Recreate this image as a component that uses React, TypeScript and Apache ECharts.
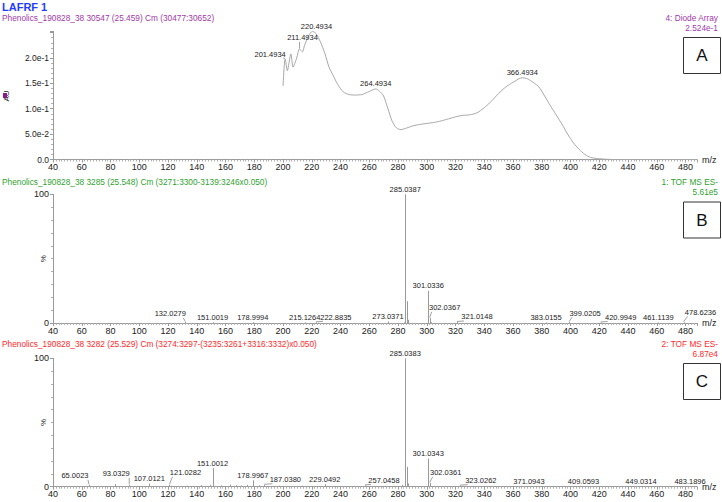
import React, { useEffect, useRef } from "react";
import * as echarts from "echarts";

// ---------- data ----------
const X_MIN = 40;
const X_MAX = 488;
const X_STEP = 20;

// Panel A: diode array UV spectrum (nm vs AU)
const uvWavelength = [
  200, 201, 201.4934, 203, 205.5, 207, 209.5, 211.4934, 213.5, 215, 218, 220.4934, 223, 226, 229, 232,
  235, 238, 242, 246, 250, 255, 260, 264.4934, 267, 270, 273, 276, 279, 282, 286, 290, 295, 300, 305,
  310, 315, 320, 325, 330, 335, 340, 345, 350, 355, 360, 364, 366.4934, 370, 374, 378, 382, 386, 390,
  394, 398, 402, 406, 410, 414, 418, 422, 430, 488,
];
const uvAbsorbance = [
  0.145, 0.19, 0.198, 0.175, 0.208, 0.182, 0.2, 0.218, 0.212, 0.225, 0.245, 0.2524, 0.248, 0.232, 0.21, 0.182,
  0.165, 0.148, 0.133, 0.128, 0.127, 0.128, 0.134, 0.139, 0.135, 0.125, 0.1, 0.075, 0.062, 0.059, 0.062, 0.066,
  0.069, 0.071, 0.073, 0.076, 0.08, 0.084, 0.087, 0.088, 0.092, 0.102, 0.115, 0.13, 0.143, 0.152, 0.159, 0.161,
  0.159, 0.152, 0.143, 0.125, 0.106, 0.088, 0.07, 0.05, 0.033, 0.02, 0.01, 0.004, 0.002, 0.001, 0, 0,
];
const uvLabelled = [201.4934, 211.4934, 220.4934, 264.4934, 366.4934];
const uvMax = 0.2524;
const uvTicks = [0, 0.05, 0.1, 0.15, 0.2];

// Panel B: TOF MS ES- (m/z vs %)
const bMz = [
  132.0279, 151.0019, 178.9994, 215.1264, 222.8835, 273.0371, 284.03, 285.0387, 286.042, 287.045,
  301.0336, 302.0367, 303.04, 321.0148, 383.0155, 399.0205, 420.9949, 461.1139, 478.6236,
];
const bIntensity = [0.8, 0.6, 0.6, 0.5, 0.5, 1.2, 0.5, 100, 17, 2.5, 25, 4, 0.6, 0.8, 0.4, 0.6, 0.4, 0.5, 0.5];
const bLabelled = [
  132.0279, 151.0019, 178.9994, 215.1264, 222.8835, 273.0371, 285.0387, 301.0336, 302.0367, 321.0148,
  383.0155, 399.0205, 420.9949, 461.1139, 478.6236,
];

// Panel C: TOF MS ES- (m/z vs %)
const cMz = [
  65.0023, 83.0, 93.0329, 107.0121, 121.0282, 133.0, 143.0, 149.0, 151.0012, 157.0, 163.0, 167.0, 171.0,
  175.0, 178.9967, 183.0, 187.038, 197.0, 213.0, 229.0492, 241.0, 257.0458, 269.0, 283.0, 285.0383,
  286.04, 287.04, 301.0343, 302.0361, 323.0262, 371.0943, 409.0593, 449.0314, 483.1896,
];
const cIntensity = [
  1.5, 2, 1.5, 2.5, 1.5, 0.8, 1.2, 1.5, 14.5, 1.0, 1.6, 1.2, 1.0, 1.4, 5, 1.0, 1.5, 0.8, 0.8, 2, 0.6, 1,
  0.6, 1.5, 100, 15.5, 2.5, 22, 3, 0.8, 0.5, 0.5, 0.5, 0.5,
];
const cLabelled = [
  65.0023, 93.0329, 107.0121, 121.0282, 151.0012, 178.9967, 187.038, 229.0492, 257.0458, 285.0383,
  301.0343, 302.0361, 323.0262, 371.0943, 409.0593, 449.0314, 483.1896,
];

// ---------- layout / style ----------
const FONT = "'Liberation Sans', Arial, sans-serif";
const LABEL_SHIFT: Record<string, [number, number]> = {
  "A:201.4934": [-15, 0],
  "A:211.4934": [3, -6],
  "A:220.4934": [4, 0],
  "B:132.0279": [-15, -3],
  "B:222.8835": [20, 0],
  "B:302.0367": [15, -5],
  "B:321.0148": [20, 0],
  "B:399.0205": [16, -4],
  "B:420.9949": [20, 0],
  "B:478.6236": [17, -5],
  "C:65.0023": [-14, -4],
  "C:93.0329": [-13, -6],
  "C:121.0282": [16, -7],
  "C:187.0380": [21, 0],
  "C:257.0458": [19, 0],
  "C:302.0361": [16, -5],
  "C:323.0262": [21, 0],
};

const zip = (a: number[], b: number[]) => a.map((v, i) => [v, b[i]]);

function labelSeries(panel: string, axisIdx: number, mzList: number[], allMz: number[], allVal: number[]) {
  const data = mzList.map((m) => [m, allVal[allMz.indexOf(m)]]);
  const texts = mzList.map((m) => m.toFixed(4));
  return {
    type: "custom",
    xAxisIndex: axisIdx,
    yAxisIndex: axisIdx,
    clip: false,
    silent: true,
    z: 5,
    data,
    renderItem: (params: any, api: any) => {
      const p = api.coord([api.value(0), api.value(1)]);
      const text = texts[params.dataIndex];
      const sh = LABEL_SHIFT[panel + ":" + text] || [0, 0];
      const ax = p[0] + sh[0];
      const ay = p[1] - 1 + sh[1];
      const children: any[] = [
        {
          type: "text",
          style: {
            x: ax,
            y: ay,
            text,
            fill: "#222",
            fontSize: 7.5,
            fontFamily: FONT,
            align: "center",
            textAlign: "center",
            verticalAlign: "bottom",
            textVerticalAlign: "bottom",
          },
        },
      ];
      if (Math.abs(sh[0]) > 6 || sh[1] < -3) {
        const sx = Math.max(ax - 13, Math.min(ax + 13, p[0]));
        children.push({
          type: "line",
          shape: { x1: sx, y1: ay, x2: p[0], y2: p[1] - 0.5 },
          style: { stroke: "#888", lineWidth: 0.8 },
        });
      }
      return { type: "group", children };
    },
  };
}

function stickSeries(axisIdx: number, mz: number[], vals: number[]) {
  return {
    type: "custom",
    xAxisIndex: axisIdx,
    yAxisIndex: axisIdx,
    silent: true,
    z: 3,
    data: zip(mz, vals),
    renderItem: (params: any, api: any) => {
      const top = api.coord([api.value(0), api.value(1)]);
      const base = api.coord([api.value(0), 0]);
      const x = Math.round(top[0]) + 0.5;
      return {
        type: "line",
        shape: { x1: x, y1: base[1], x2: x, y2: top[1] },
        style: { stroke: "#9a9a9a", lineWidth: 1 },
      };
    },
  };
}

function xAxis(i: number) {
  return {
    gridIndex: i,
    type: "value",
    min: X_MIN,
    max: X_MAX,
    interval: X_STEP,
    name: "m/z",
    nameLocation: "end",
    nameGap: 5,
    nameTextStyle: { fontSize: 9, color: "#222", fontFamily: FONT, verticalAlign: "middle" },
    axisLine: { onZero: false, lineStyle: { color: "#9a9a9a", width: 1 } },
    axisTick: { show: true, length: 3, lineStyle: { color: "#9a9a9a" } },
    minorTick: { show: true, splitNumber: 10, length: 2, lineStyle: { color: "#b0b0b0" } },
    axisLabel: { fontSize: 9, color: "#222", fontFamily: FONT, margin: 3, showMaxLabel: false },
    splitLine: { show: false },
    minorSplitLine: { show: false },
  };
}

function pctAxis(i: number) {
  return {
    gridIndex: i,
    type: "value",
    min: 0,
    max: 100,
    interval: 100,
    name: "%",
    nameLocation: "middle",
    nameRotate: 90,
    nameGap: 6,
    nameMoveOverlap: false,
    nameTextStyle: { fontSize: 8, color: "#222", fontFamily: FONT },
    axisLine: { show: true, lineStyle: { color: "#9a9a9a", width: 1 } },
    axisTick: { show: true, length: 3, lineStyle: { color: "#9a9a9a" } },
    minorTick: { show: true, splitNumber: 10, length: 2, lineStyle: { color: "#b0b0b0" } },
    axisLabel: { fontSize: 9, color: "#222", fontFamily: FONT, margin: 4 },
    splitLine: { show: false },
  };
}

const txt = (x: number, y: number, text: string, color: string, opts: any = {}) => ({
  type: "text",
  x,
  y,
  rotation: opts.rotation || 0,
  silent: true,
  z: 10,
  style: {
    text,
    fill: color,
    fontSize: opts.fontSize || 8.3,
    fontWeight: opts.fontWeight || "normal",
    fontFamily: FONT,
    align: opts.align || "left",
    textAlign: opts.align || "left",
    verticalAlign: "middle",
    textVerticalAlign: "middle",
  },
});

const box = (y: number, letter: string) => ({
  type: "group",
  z: 10,
  silent: true,
  children: [
    {
      type: "rect",
      shape: { x: 683.5, y: y + 0.5, width: 37, height: 36 },
      style: { fill: "#fff", stroke: "#333", lineWidth: 1 },
    },
    {
      type: "text",
      x: 702,
      y: y + 18.5,
      style: {
        text: letter,
        fill: "#111",
        fontSize: 17,
        fontFamily: FONT,
        align: "center",
        textAlign: "center",
        verticalAlign: "middle",
        textVerticalAlign: "middle",
      },
    },
  ],
});

const PURPLE = "#a03aa8";
const GREEN = "#2f9f2f";
const RED = "#ff2a2a";

export default function App() {
  const ref = useRef<HTMLDivElement>(null);
  useEffect(() => {
    if (!ref.current) return;
    const chart = echarts.init(ref.current, undefined, { renderer: "svg" });
    chart.setOption({
      animation: false,
      backgroundColor: "#fff",
      grid: [
        { left: 53, width: 644, top: 31.4, height: 128.1, outerBoundsMode: "none", containLabel: false },
        { left: 53, width: 644, top: 194.3, height: 128.7, outerBoundsMode: "none", containLabel: false },
        { left: 53, width: 644, top: 358.3, height: 128.4, outerBoundsMode: "none", containLabel: false },
      ],
      xAxis: [xAxis(0), xAxis(1), xAxis(2)],
      yAxis: [
        {
          gridIndex: 0,
          type: "value",
          min: uvTicks[0],
          max: uvMax,
          interval: uvTicks[1] - uvTicks[0],
          axisLine: { show: true, lineStyle: { color: "#9a9a9a", width: 1 } },
          axisTick: { show: true, length: 3, lineStyle: { color: "#9a9a9a" } },
          minorTick: { show: true, splitNumber: 5, length: 2, lineStyle: { color: "#b0b0b0" } },
          axisLabel: {
            fontSize: 8.5,
            color: "#222",
            fontFamily: FONT,
            margin: 4,
            showMaxLabel: false,
            formatter: (v: number) =>
              v === 0 ? "0.0" : v > uvTicks[uvTicks.length - 1] + 1e-6 ? "" : v.toExponential(1),
          },
          splitLine: { show: false },
        },
        pctAxis(1),
        pctAxis(2),
      ],
      series: [
        {
          type: "line",
          xAxisIndex: 0,
          yAxisIndex: 0,
          data: zip(uvWavelength, uvAbsorbance),
          smooth: 0.25,
          showSymbol: false,
          silent: true,
          lineStyle: { color: "#a8a8a8", width: 1 },
          z: 3,
        },
        labelSeries("A", 0, uvLabelled, uvWavelength, uvAbsorbance),
        stickSeries(1, bMz, bIntensity),
        labelSeries("B", 1, bLabelled, bMz, bIntensity),
        stickSeries(2, cMz, cIntensity),
        labelSeries("C", 2, cLabelled, cMz, cIntensity),
      ],
      graphic: [
        txt(2, 6.5, "LAFRF 1", "#1f3cff", { fontSize: 11, fontWeight: "bold" }),
        txt(2, 17.5, "Phenolics_190828_38 30547 (25.459) Cm (30477:30652)", PURPLE),
        txt(718, 17.5, "4: Diode Array", PURPLE, { align: "right" }),
        txt(718, 28, "2.524e-1", PURPLE, { align: "right" }),
        txt(2, 182, "Phenolics_190828_38 3285 (25.548) Cm (3271:3300-3139:3246x0.050)", GREEN),
        txt(718, 182, "1: TOF MS ES-", GREEN, { align: "right" }),
        txt(718, 192, "5.61e5", GREEN, { align: "right" }),
        txt(2, 344, "Phenolics_190828_38 3282 (25.529) Cm (3274:3297-(3235:3261+3316:3332)x0.050)", RED),
        txt(718, 344, "2: TOF MS ES-", RED, { align: "right" }),
        txt(718, 354, "6.87e4", RED, { align: "right" }),
        txt(6, 96, "AU", "#222", { fontSize: 8, align: "center", rotation: Math.PI / 2 }),
        {
          type: "rect",
          silent: true,
          z: 11,
          shape: { x: 3, y: 93, width: 4, height: 5 },
          style: { fill: "#8a1a8a" },
        },
        box(37, "A"),
        box(201.5, "B"),
        box(363, "C"),
      ],
    });
    return () => chart.dispose();
  }, []);
  return (
    <div
      ref={ref}
      style={{ position: "fixed", left: 0, top: 0, width: 722, height: 502, background: "#fff" }}
    />
  );
}
